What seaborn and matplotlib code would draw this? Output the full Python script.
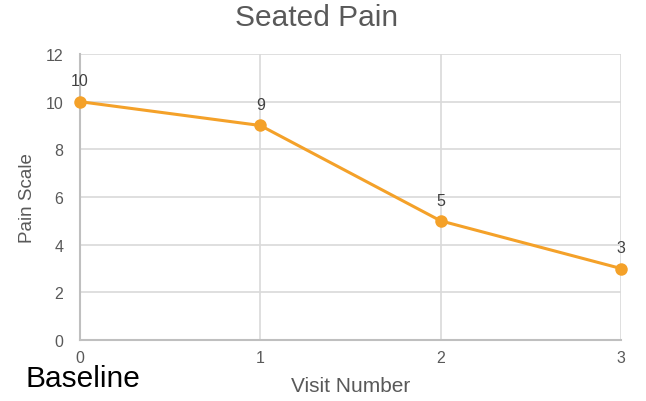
import matplotlib
matplotlib.use("Agg")
import matplotlib.pyplot as plt
import seaborn as sns
import pandas as pd

visits = [0, 1, 2, 3]
pain = [10, 9, 5, 3]
y_ticks = [0, 2, 4, 6, 8, 10, 12]

sns.set_theme(style="whitegrid")
plt.rcParams["font.family"] = ["Liberation Sans", "DejaVu Sans"]

df = pd.DataFrame({"Visit Number": visits, "Pain Scale": pain})

fig = plt.figure(figsize=(6.46, 4.02), dpi=100)
ax = fig.add_axes([0.1238, 0.1517, 0.8375, 0.7115])

orange = "#F4A129"
sns.lineplot(data=df, x="Visit Number", y="Pain Scale", ax=ax, color=orange,
             linewidth=2.2, marker="o", markersize=9, markeredgewidth=0,
             zorder=3, clip_on=False)

for x, y in zip(visits, pain):
    ax.annotate(str(y), (x, y), xytext=(0, 9.5), textcoords="offset points",
                ha="center", va="bottom", fontsize=11.5, color="#404040")

ax.set_xlim(0, 3)
ax.set_ylim(0, 12)
ax.set_xticks(visits)
ax.set_yticks(y_ticks)
ax.grid(True, color="#d9d9d9", linewidth=1.2)
ax.set_axisbelow(True)
for side in ["top", "right"]:
    ax.spines[side].set_visible(False)
for side in ["left", "bottom"]:
    ax.spines[side].set_color("#bfbfbf")
    ax.spines[side].set_linewidth(1.5)

ax.tick_params(axis="both", colors="#595959", labelsize=11.5, length=0)
ax.tick_params(axis="y", pad=12)
ax.tick_params(axis="x", pad=7)

ax.set_xlabel("Visit Number", fontsize=15, color="#595959", labelpad=8)
ax.set_ylabel("Pain Scale", fontsize=13.5, color="#595959", labelpad=7)

fig.text(317 / 646, 1 - 18 / 402, "Seated Pain", fontsize=21.5,
         color="#595959", ha="center", va="center")

fig.text(25 / 646, 1 - 379 / 402, "Baseline", fontsize=21.5, color="black",
         ha="left", va="center")

fig.savefig("out.png", dpi=100)
